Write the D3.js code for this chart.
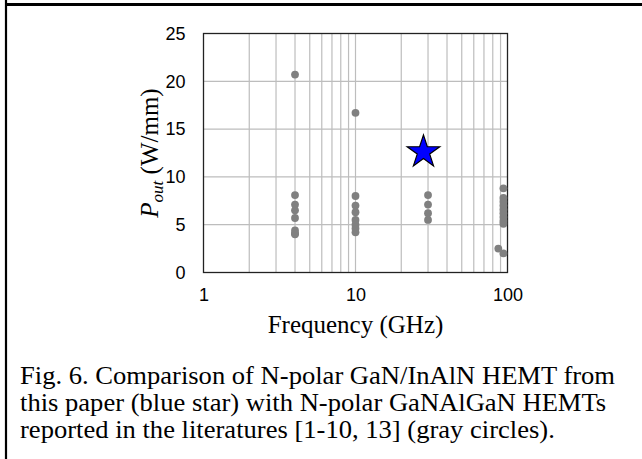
<!DOCTYPE html>
<html><head><meta charset="utf-8">
<script src="https://cdn.jsdelivr.net/npm/d3@7"></script>
<style>body{margin:0;background:#fff}svg{display:block}</style>
</head><body><svg id="c" width="642" height="459"></svg>
<script>
// Data
const freqGHz4  = [4, 4, 4, 4, 4, 4, 4, 4];
const pout4     = [20.7, 8.1, 7.1, 6.5, 5.7, 4.4, 4.1, 4.0];
const freqGHz10 = [10, 10, 10, 10, 10, 10, 10, 10];
const pout10    = [16.7, 8.0, 7.0, 6.3, 5.5, 5.0, 4.6, 4.2];
const freqGHz30 = [30, 30, 30, 30];
const pout30    = [8.1, 7.1, 6.2, 5.5];
const freqGHz94 = [94, 94, 94, 94, 94, 94, 94, 94, 94, 87, 94];
const pout94    = [8.8, 7.8, 7.4, 7.0, 6.6, 6.2, 5.8, 5.4, 5.1, 2.5, 2.0];
const starFreq  = [28];
const starPout  = [12.6];
const yTicks    = [0, 5, 10, 15, 20, 25];
const xTicks    = [1, 10, 100];
const xLabel    = "Frequency (GHz)";
const caption   = ["Fig. 6. Comparison of N-polar GaN/InAlN HEMT from",
                   "this paper (blue star) with N-polar GaNAlGaN HEMTs",
                   "reported in the literatures [1-10, 13] (gray circles)."];

const svg = d3.select("#c");
const L = 203.5, R = 507.5, T = 33.5, B = 272.5;
const x = d3.scaleLog().domain([1, 100]).range([L, R]);
const y = d3.scaleLinear().domain([0, 25]).range([B, T]);

// outer frame
svg.append("line").attr("x1", 5).attr("x2", 642).attr("y1", 4.5).attr("y2", 4.5)
  .attr("stroke", "#000").attr("stroke-width", 3);
svg.append("line").attr("x1", 6).attr("x2", 6).attr("y1", 0).attr("y2", 459)
  .attr("stroke", "#000").attr("stroke-width", 2.2);

// grid
const minor = [];
for (let d = 1; d < 100; d *= 10) for (let k = 2; k <= 10; k++) minor.push(d * k);
const g = svg.append("g");
g.selectAll(".vg").data(minor.filter(v => v < 100)).join("line")
  .attr("x1", d => x(d)).attr("x2", d => x(d)).attr("y1", T).attr("y2", B)
  .attr("stroke", "#bdbdbd").attr("stroke-width", 1.2);
g.selectAll(".hg").data(yTicks.filter(v => v > 0 && v < 25)).join("line")
  .attr("x1", L).attr("x2", R).attr("y1", d => y(d)).attr("y2", d => y(d))
  .attr("stroke", "#bdbdbd").attr("stroke-width", 1.2);

// frame of plot
svg.append("rect").attr("x", L).attr("y", T).attr("width", R - L).attr("height", B - T)
  .attr("fill", "none").attr("stroke", "#222").attr("stroke-width", 1.3);

// axes labels (tick text)
const yAxis = d3.axisLeft(y).tickValues(yTicks).tickSize(0).tickPadding(18);
const ya = svg.append("g").attr("transform", `translate(${L},0)`).call(yAxis);
ya.select(".domain").remove();
ya.selectAll("text").attr("font-family", "Arial, Liberation Sans, sans-serif")
  .attr("font-size", 18).attr("fill", "#000");
const xAxis = d3.axisBottom(x).tickValues(xTicks).tickFormat(d3.format("d")).tickSize(0).tickPadding(16);
const xa = svg.append("g").attr("transform", `translate(0,${B})`).call(xAxis);
xa.select(".domain").remove();
xa.selectAll("text").attr("font-family", "Arial, Liberation Sans, sans-serif")
  .attr("font-size", 18).attr("fill", "#000");

// points
const gray = [
  ...freqGHz4.map((f, i) => [f, pout4[i]]),
  ...freqGHz10.map((f, i) => [f, pout10[i]]),
  ...freqGHz30.map((f, i) => [f, pout30[i]]),
  ...freqGHz94.map((f, i) => [f, pout94[i]])
];
svg.append("g").selectAll("circle").data(gray).join("circle")
  .attr("cx", d => x(d[0])).attr("cy", d => y(d[1])).attr("r", 3.9)
  .attr("fill", "#808080");

// star
const star = d3.symbol().type(d3.symbolStar).size(330);
svg.append("g").selectAll("path").data(starFreq.map((f, i) => [f, starPout[i]])).join("path")
  .attr("d", star).attr("transform", d => `translate(${x(d[0])},${y(d[1])})`)
  .attr("fill", "#0000ff").attr("stroke", "#000").attr("stroke-width", 1.2);

// axis titles
svg.append("text").attr("x", (L + R) / 2).attr("y", 333)
  .attr("text-anchor", "middle").attr("font-family", "Times New Roman, Liberation Serif, serif")
  .attr("font-size", 25).text(xLabel);
const yl = svg.append("text").attr("transform", `translate(158,${(T + B) / 2}) rotate(-90)`)
  .attr("text-anchor", "middle").attr("font-family", "Times New Roman, Liberation Serif, serif")
  .attr("font-size", 25);
yl.append("tspan").attr("font-style", "italic").text("P");
yl.append("tspan").attr("font-style", "italic").attr("font-size", 17).attr("dy", 5).text("out");
yl.append("tspan").attr("dy", -5).text(" (W/mm)");

// caption (slightly widened horizontally to match the reference's letter widths)
svg.append("g").attr("transform", "translate(20,0) scale(1.094,1)")
  .selectAll("text").data(caption).join("text")
  .attr("x", 0).attr("y", (d, i) => 384.5 + i * 27)
  .attr("font-family", "Times New Roman, Liberation Serif, serif")
  .attr("font-size", 24.3).attr("fill", "#000").text(d => d);
</script></body></html>
